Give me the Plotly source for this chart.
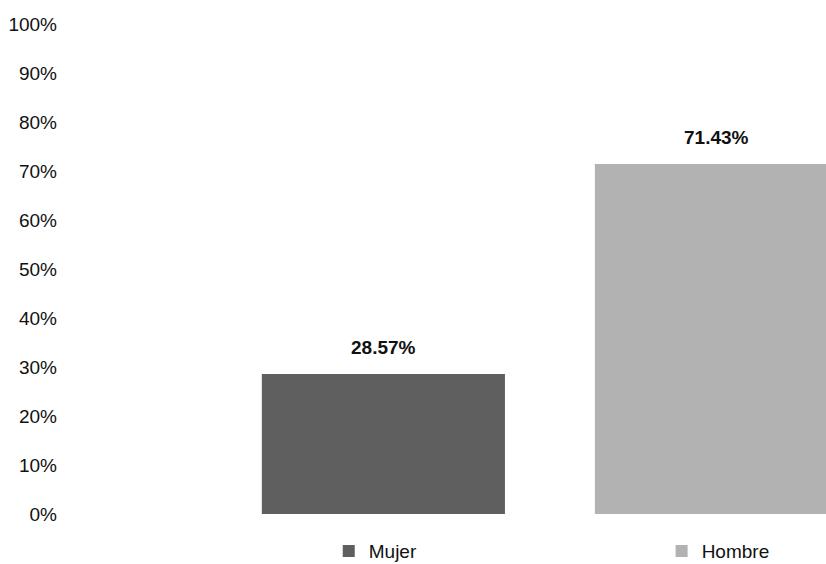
import plotly.graph_objects as go

categories = ["Mujer", "Hombre"]
values = [0.2857, 0.7143]
colors = ["#5f5f5f", "#b2b2b2"]
tick_vals = [0, 0.1, 0.2, 0.3, 0.4, 0.5, 0.6, 0.7, 0.8, 0.9, 1.0]

FONT = "Liberation Sans, Arial, sans-serif"
legend_names = ["legend", "legend2"]

fig = go.Figure()
for cat, val, col, lg in zip(categories, values, colors, legend_names):
    fig.add_trace(go.Bar(
        x=[cat], y=[val], name=cat,
        marker=dict(color=col, line=dict(width=0)),
        width=0.73,
        legend=lg,
    ))
    fig.add_annotation(
        x=cat, y=val, text=f"<b>{val*100:.2f}%</b>",
        showarrow=False, yanchor="bottom", yshift=14,
        font=dict(family=FONT, size=19, color="#111111"),
    )

legend_common = dict(
    orientation="h", xanchor="left", yanchor="middle",
    xref="container", yref="container", y=0.023,
    itemwidth=30, bgcolor="rgba(0,0,0,0)",
    font=dict(family=FONT, size=19, color="#111111"),
)

fig.update_layout(
    width=826, height=564,
    margin=dict(l=75, r=0, t=24, b=50),
    paper_bgcolor="white", plot_bgcolor="white",
    font=dict(family=FONT, size=19, color="#111111"),
    barmode="overlay",
    showlegend=True,
    legend=dict(x=0.398, **legend_common),
    legend2=dict(x=0.801, **legend_common),
    xaxis=dict(
        type="category", range=[-0.926, 1.329], showticklabels=False,
        showgrid=False, zeroline=False, showline=False, ticks="",
        automargin=False,
    ),
    yaxis=dict(
        range=[0, 1], tickvals=tick_vals, tickformat=".0%",
        showgrid=False, zeroline=False, showline=False, ticks="",
        ticklabelstandoff=17, automargin=False,
    ),
)

fig.write_html("out.html", config={"displayModeBar": False},
               post_script="document.body.style.margin='0';")
